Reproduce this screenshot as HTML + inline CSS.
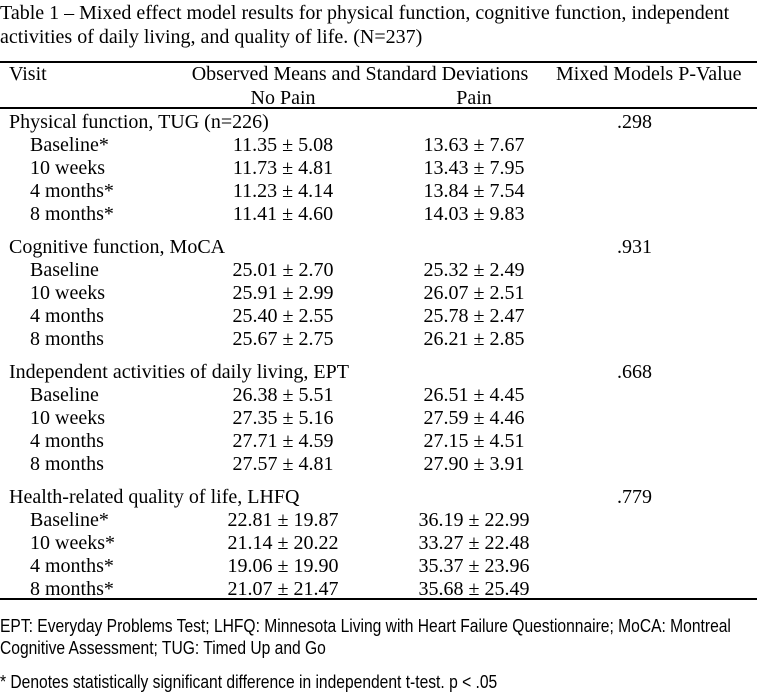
<!DOCTYPE html>
<html><head><meta charset="utf-8"><style>
body{margin:0;width:762px;height:693px;background:#fff;position:relative;overflow:hidden;font-family:"Liberation Serif",serif;font-size:20px;color:#000}
.t{position:absolute;white-space:nowrap;line-height:1;transform:translateY(-50%)}
.c{transform:translate(-50%,-50%)}
.hl{position:absolute;left:0;width:757px;height:1.5px;background:#000}
.f{font-family:"Liberation Sans",sans-serif;font-size:18px;transform:translateY(-50%) scaleX(0.867);transform-origin:0 50%}
</style></head><body>
<div class="t" style="left:0;top:13px">Table 1 – Mixed effect model results for physical function, cognitive function, independent</div>
<div class="t" style="left:0;top:37px">activities of daily living, and quality of life. (N=237)</div>
<div class="hl" style="top:61px"></div>
<div class="t" style="left:9px;top:74px">Visit</div>
<div class="t c" style="left:360px;top:74px">Observed Means and Standard Deviations</div>
<div class="t" style="left:556px;top:74px">Mixed Models P-Value</div>
<div class="t c" style="left:283px;top:98px">No Pain</div>
<div class="t c" style="left:474px;top:98px">Pain</div>
<div class="hl" style="top:107px"></div>

<div class="t" style="left:9px;top:122px">Physical function, TUG (n=226)</div><div class="t" style="left:617px;top:122px">.298</div>
<div class="t" style="left:30px;top:145px">Baseline*</div><div class="t c" style="left:283px;top:145px">11.35 ± 5.08</div><div class="t c" style="left:474px;top:145px">13.63 ± 7.67</div>
<div class="t" style="left:30px;top:168px">10 weeks</div><div class="t c" style="left:283px;top:168px">11.73 ± 4.81</div><div class="t c" style="left:474px;top:168px">13.43 ± 7.95</div>
<div class="t" style="left:30px;top:191px">4 months*</div><div class="t c" style="left:283px;top:191px">11.23 ± 4.14</div><div class="t c" style="left:474px;top:191px">13.84 ± 7.54</div>
<div class="t" style="left:30px;top:214px">8 months*</div><div class="t c" style="left:283px;top:214px">11.41 ± 4.60</div><div class="t c" style="left:474px;top:214px">14.03 ± 9.83</div>

<div class="t" style="left:9px;top:247px">Cognitive function, MoCA</div><div class="t" style="left:617px;top:247px">.931</div>
<div class="t" style="left:30px;top:270px">Baseline</div><div class="t c" style="left:283px;top:270px">25.01 ± 2.70</div><div class="t c" style="left:474px;top:270px">25.32 ± 2.49</div>
<div class="t" style="left:30px;top:293px">10 weeks</div><div class="t c" style="left:283px;top:293px">25.91 ± 2.99</div><div class="t c" style="left:474px;top:293px">26.07 ± 2.51</div>
<div class="t" style="left:30px;top:316px">4 months</div><div class="t c" style="left:283px;top:316px">25.40 ± 2.55</div><div class="t c" style="left:474px;top:316px">25.78 ± 2.47</div>
<div class="t" style="left:30px;top:339px">8 months</div><div class="t c" style="left:283px;top:339px">25.67 ± 2.75</div><div class="t c" style="left:474px;top:339px">26.21 ± 2.85</div>

<div class="t" style="left:9px;top:372px">Independent activities of daily living, EPT</div><div class="t" style="left:617px;top:372px">.668</div>
<div class="t" style="left:30px;top:395px">Baseline</div><div class="t c" style="left:283px;top:395px">26.38 ± 5.51</div><div class="t c" style="left:474px;top:395px">26.51 ± 4.45</div>
<div class="t" style="left:30px;top:418px">10 weeks</div><div class="t c" style="left:283px;top:418px">27.35 ± 5.16</div><div class="t c" style="left:474px;top:418px">27.59 ± 4.46</div>
<div class="t" style="left:30px;top:441px">4 months</div><div class="t c" style="left:283px;top:441px">27.71 ± 4.59</div><div class="t c" style="left:474px;top:441px">27.15 ± 4.51</div>
<div class="t" style="left:30px;top:464px">8 months</div><div class="t c" style="left:283px;top:464px">27.57 ± 4.81</div><div class="t c" style="left:474px;top:464px">27.90 ± 3.91</div>

<div class="t" style="left:9px;top:497px">Health-related quality of life, LHFQ</div><div class="t" style="left:617px;top:497px">.779</div>
<div class="t" style="left:30px;top:520px">Baseline*</div><div class="t c" style="left:283px;top:520px">22.81 ± 19.87</div><div class="t c" style="left:474px;top:520px">36.19 ± 22.99</div>
<div class="t" style="left:30px;top:543px">10 weeks*</div><div class="t c" style="left:283px;top:543px">21.14 ± 20.22</div><div class="t c" style="left:474px;top:543px">33.27 ± 22.48</div>
<div class="t" style="left:30px;top:566px">4 months*</div><div class="t c" style="left:283px;top:566px">19.06 ± 19.90</div><div class="t c" style="left:474px;top:566px">35.37 ± 23.96</div>
<div class="t" style="left:30px;top:589px">8 months*</div><div class="t c" style="left:283px;top:589px">21.07 ± 21.47</div><div class="t c" style="left:474px;top:589px">35.68 ± 25.49</div>
<div class="hl" style="top:598px"></div>

<div class="t f" style="left:0;top:626px">EPT: Everyday Problems Test; LHFQ: Minnesota Living with Heart Failure Questionnaire; MoCA: Montreal</div>
<div class="t f" style="left:0;top:648px">Cognitive Assessment; TUG: Timed Up and Go</div>
<div class="t f" style="left:0;top:682px">* Denotes statistically significant difference in independent t-test. p &lt; .05</div>
</body></html>
